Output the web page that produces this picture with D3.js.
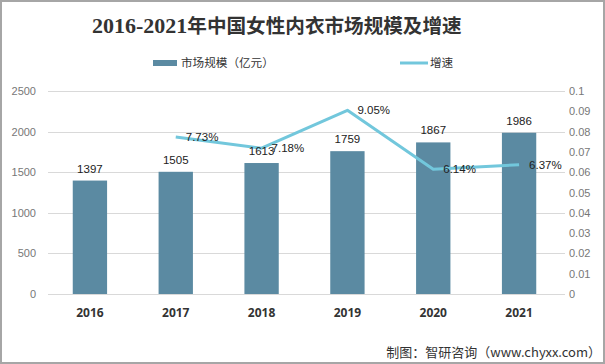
<!DOCTYPE html>
<html><head><meta charset="utf-8">
<script src="https://cdn.jsdelivr.net/npm/d3@7"></script>
<style>body{margin:0;background:#fff}svg{display:block}</style>
</head><body>
<svg id="c" width="605" height="364"></svg>
<script>
const years = ["2016","2017","2018","2019","2020","2021"];
const marketSize = [1397,1505,1613,1759,1867,1986];
const growthYears = ["2017","2018","2019","2020","2021"];
const growthRate = [0.0773,0.0718,0.0905,0.0614,0.0637];
const growthLabels = ["7.73%","7.18%","9.05%","6.14%","6.37%"];
const leftTicks = [0,500,1000,1500,2000,2500];
const rightTicks = [0,0.01,0.02,0.03,0.04,0.05,0.06,0.07,0.08,0.09,0.1];
const rightTickLabels = ["0","0.01","0.02","0.03","0.04","0.05","0.06","0.07","0.08","0.09","0.1"];

const svg = d3.select("#c");
const W=605,H=364;
svg.append("rect").attr("x",1).attr("y",1).attr("width",W-2).attr("height",H-2)
  .attr("fill","#fff").attr("stroke","#a6a6a6").attr("stroke-width",2);

const x = d3.scaleBand().domain(years).range([47,562]).paddingInner(0.6).paddingOuter(0.3);
const yL = d3.scaleLinear().domain([0,2500]).range([294,91]);
const yR = d3.scaleLinear().domain([0,0.1]).range([294,91]);

// title
const t = svg.append("text").attr("x",92).attr("y",33).attr("fill","#333")
  .style("font-weight","bold");
t.append("tspan").text("2016-2021").style("font-family","'Liberation Serif',serif").style("font-size","22px");
t.append("tspan").text("年中国女性内衣市场规模及增速").style("font-family","'Noto Sans CJK SC',sans-serif").style("font-size","19.6px").style("font-weight","600");

// legend
const lg = svg.append("g");
lg.append("rect").attr("x",153).attr("y",60).attr("width",24).attr("height",6).attr("fill","#5b8aa2");
lg.append("text").attr("x",181).attr("y",63).attr("dy","0.35em").text("市场规模（亿元）")
  .style("font-family","'Noto Sans CJK SC',sans-serif").style("font-size","11.6px").attr("fill","#333");
lg.append("line").attr("x1",400).attr("x2",428).attr("y1",63).attr("y2",63).attr("stroke","#72c7dc").attr("stroke-width",3);
lg.append("text").attr("x",430).attr("y",63).attr("dy","0.35em").text("增速")
  .style("font-family","'Noto Sans CJK SC',sans-serif").style("font-size","11.6px").attr("fill","#333");

// gridlines
svg.append("g").selectAll("line").data(leftTicks).join("line")
  .attr("x1",48).attr("x2",565).attr("y1",d=>Math.round(yL(d))+0.5).attr("y2",d=>Math.round(yL(d))+0.5)
  .attr("stroke","#d9d9d9").attr("stroke-width",1);

// left axis
const axL = svg.append("g").attr("transform","translate(40,0)")
  .call(d3.axisLeft(yL).tickValues(leftTicks).tickSize(0).tickPadding(4).tickFormat(d3.format("d")));
axL.select(".domain").remove();
axL.selectAll("text").attr("fill","#777").style("font-family","'Liberation Sans',sans-serif").style("font-size","11px");

// right axis
const axR = svg.append("g").attr("transform","translate(565,0)")
  .call(d3.axisRight(yR).tickValues(rightTicks).tickSize(0).tickPadding(4).tickFormat((d,i)=>rightTickLabels[i]));
axR.select(".domain").remove();
axR.selectAll("text").attr("fill","#777").style("font-family","'Liberation Sans',sans-serif").style("font-size","11px");

// x axis
const axX = svg.append("g").attr("transform","translate(0,294)")
  .call(d3.axisBottom(x).tickSize(0).tickPadding(14));
axX.select(".domain").remove();
axX.selectAll("text").attr("fill","#333").style("font-family","'Open Sans',sans-serif").style("font-size","12px").style("font-weight","bold");

// bars
svg.append("g").selectAll("rect").data(marketSize).join("rect")
  .attr("x",(d,i)=>x(years[i])).attr("width",x.bandwidth())
  .attr("y",d=>yL(d)).attr("height",d=>yL(0)-yL(d)).attr("fill","#5b8aa2");

// line
const cx = yr => x(yr)+x.bandwidth()/2;
const line = d3.line().x((d,i)=>cx(growthYears[i])).y(d=>yR(d));
svg.append("path").datum(growthRate).attr("d",line).attr("fill","none")
  .attr("stroke","#72c7dc").attr("stroke-width",3).attr("stroke-linejoin","round");

// bar value labels (on top of line)
svg.append("g").selectAll("text").data(marketSize).join("text")
  .attr("x",(d,i)=>x(years[i])+x.bandwidth()/2).attr("y",d=>yL(d)-8)
  .attr("text-anchor","middle").text(d=>d)
  .style("font-family","'Liberation Sans',sans-serif").style("font-size","11.5px").attr("fill","#222");

svg.append("g").selectAll("text").data(growthRate).join("text")
  .attr("x",(d,i)=>cx(growthYears[i])+10).attr("y",d=>yR(d)).attr("dy","0.35em")
  .text((d,i)=>growthLabels[i])
  .style("font-family","'Liberation Sans',sans-serif").style("font-size","11.5px").attr("fill","#222");

// footer
svg.append("text").attr("x",601).attr("y",352).attr("dy","0.35em").attr("text-anchor","end")
  .text("制图：智研咨询（www.chyxx.com）")
  .style("font-family","'Noto Sans CJK SC',sans-serif").style("font-size","13px").attr("fill","#333");
</script>
</body></html>
